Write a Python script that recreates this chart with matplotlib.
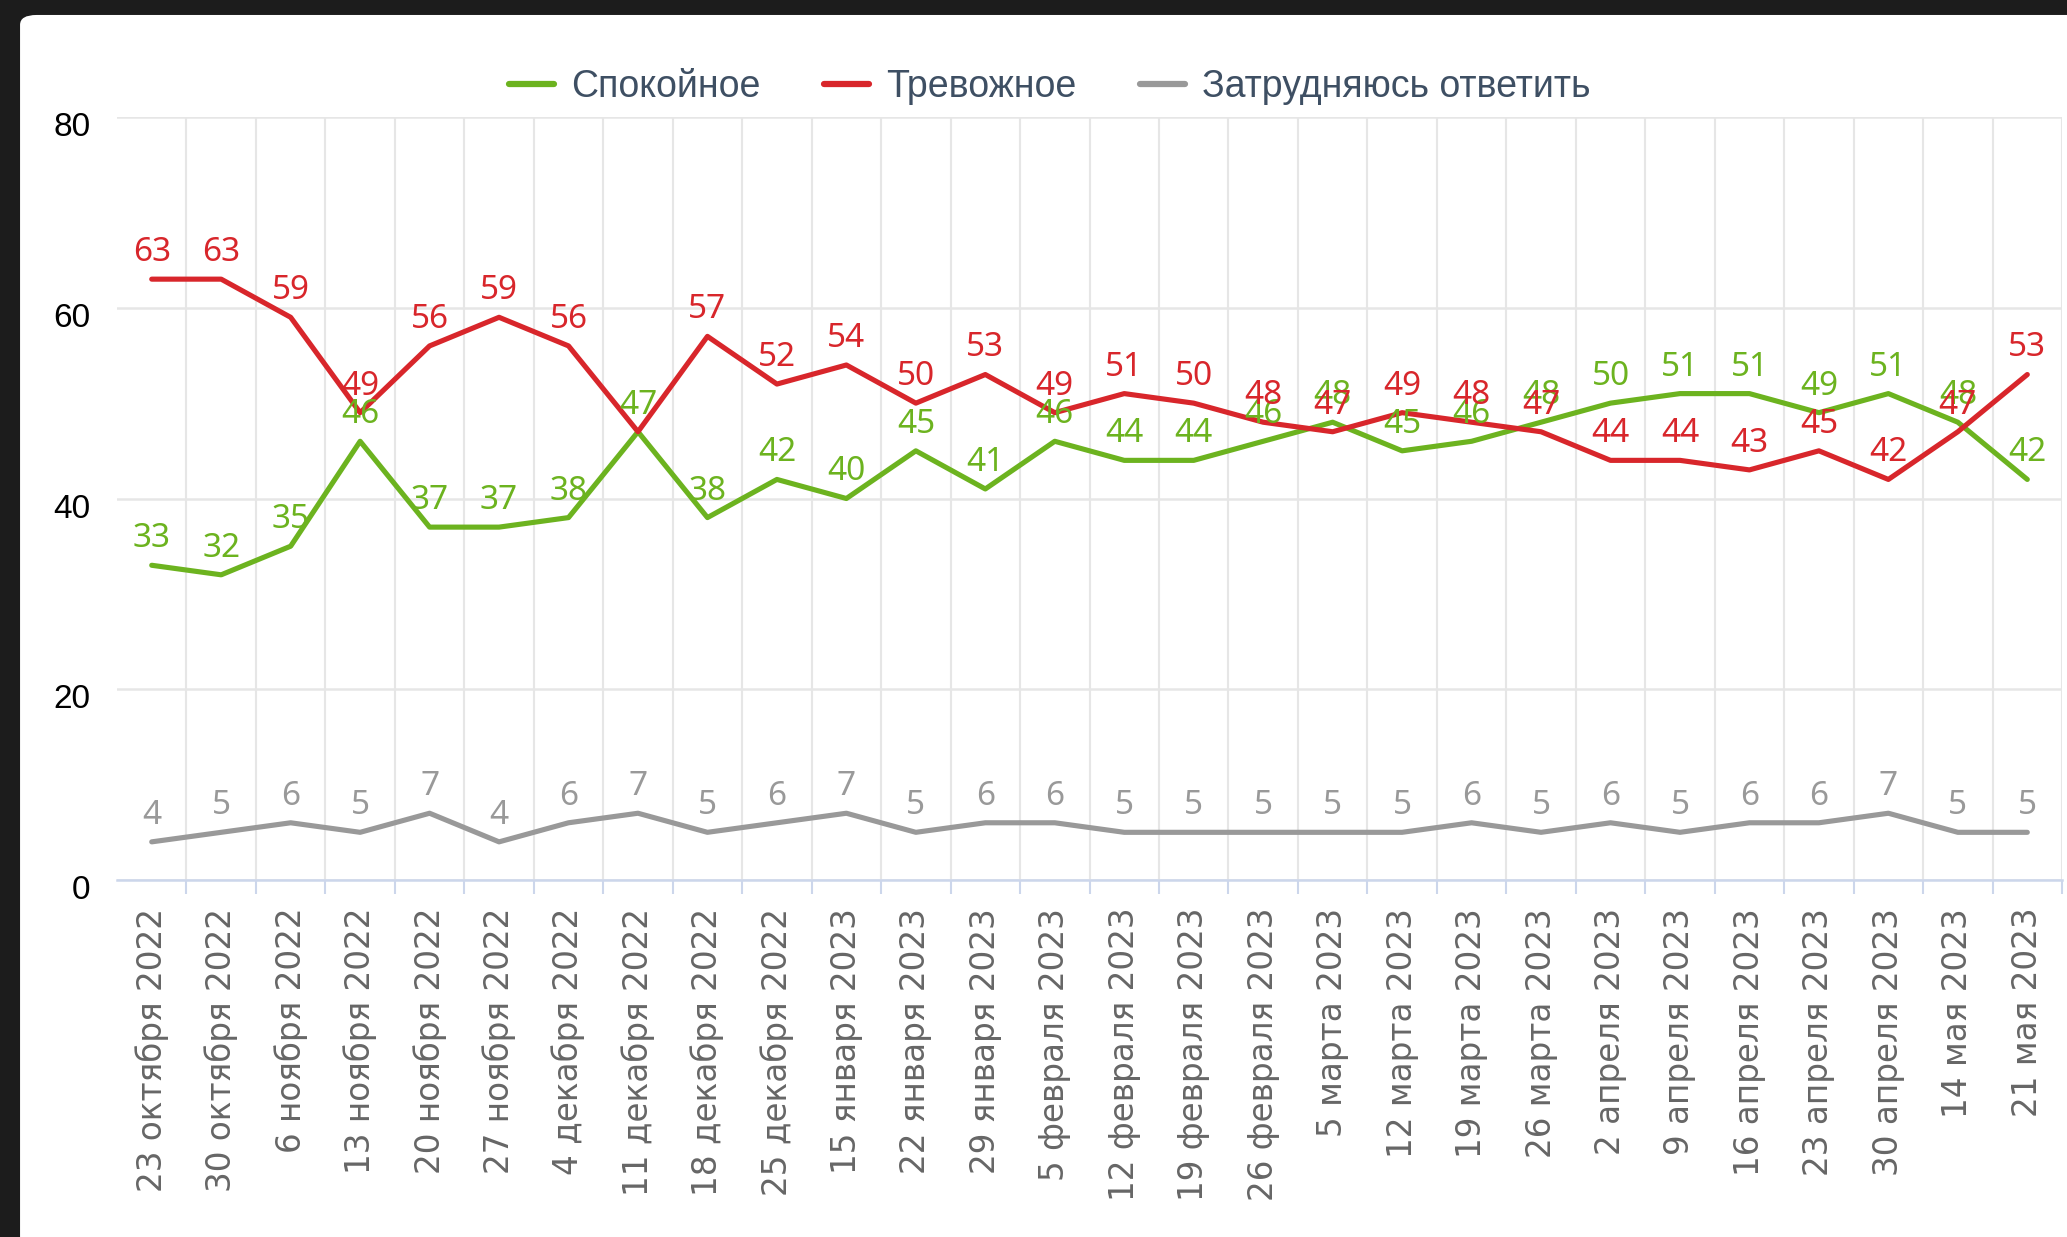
import matplotlib.pyplot as plt
from matplotlib.patches import FancyBboxPatch
from matplotlib.transforms import ScaledTranslation

dates = ['23 октября 2022', '30 октября 2022', '6 ноября 2022', '13 ноября 2022',
         '20 ноября 2022', '27 ноября 2022', '4 декабря 2022', '11 декабря 2022',
         '18 декабря 2022', '25 декабря 2022', '15 января 2023', '22 января 2023',
         '29 января 2023', '5 февраля 2023', '12 февраля 2023', '19 февраля 2023',
         '26 февраля 2023', '5 марта 2023', '12 марта 2023', '19 марта 2023',
         '26 марта 2023', '2 апреля 2023', '9 апреля 2023', '16 апреля 2023',
         '23 апреля 2023', '30 апреля 2023', '14 мая 2023', '21 мая 2023']

calm = [33, 32, 35, 46, 37, 37, 38, 47, 38, 42, 40, 45, 41, 46,
        44, 44, 46, 48, 45, 46, 48, 50, 51, 51, 49, 51, 48, 42]
anxious = [63, 63, 59, 49, 56, 59, 56, 47, 57, 52, 54, 50, 53, 49,
           51, 50, 48, 47, 49, 48, 47, 44, 44, 43, 45, 42, 47, 53]
unsure = [4, 5, 6, 5, 7, 4, 6, 7, 5, 6, 7, 5, 6, 6,
          5, 5, 5, 5, 5, 6, 5, 6, 5, 6, 6, 7, 5, 5]

GREEN = '#6cb31f'
RED = '#d8262b'
GREY = '#999999'

fig = plt.figure(figsize=(20.67, 12.37), dpi=100, facecolor='#1c1c1c')

# white card of the screenshot
panel = FancyBboxPatch((0.0097, -0.05), 1.1, 0.9879 + 0.05,
                       boxstyle='round,pad=0,rounding_size=0.008',
                       transform=fig.transFigure, facecolor='white',
                       edgecolor='none', zorder=-10)
fig.patches.append(panel)

ax = fig.add_axes([0.0566, 0.2886, 0.941, 0.6168])
ax.set_facecolor('white')

x = list(range(len(dates)))
series = [(calm, GREEN, 'Спокойное'),
          (anxious, RED, 'Тревожное'),
          (unsure, GREY, 'Затрудняюсь ответить')]

for vals, col, name in series:
    ax.plot(x, vals, color=col, lw=3.7, label=name,
            solid_joinstyle='round', solid_capstyle='round', zorder=3)

for vals, col, name in series:
    for i, v in enumerate(vals):
        # the overlapping label at the crossing point is hidden in the original
        if vals is anxious and anxious[i] == calm[i]:
            continue
        ax.annotate(str(v), (i, v), xytext=(0, 13), textcoords='offset points',
                    ha='center', va='baseline', color=col, fontsize=24,
                    family='Noto Sans', zorder=4)

ax.set_xlim(-0.5, len(dates) - 0.5)
ax.set_ylim(0, 80)
ax.set_yticks([0, 20, 40, 60, 80])
ax.set_xticks(x)
ax.set_xticklabels(dates, rotation=90, family='DejaVu Sans', fontsize=23.5,
                   color='#666666')
ax.set_xticks([i + 0.5 for i in x], minor=True)

ax.tick_params(axis='x', which='major', length=0, pad=20)
ax.tick_params(axis='x', which='minor', length=10, width=1.5, color='#ccd6eb')
ax.tick_params(axis='y', length=0, pad=19, labelsize=24, labelcolor='black')
for lab in ax.get_yticklabels():
    lab.set_family('Liberation Sans')
    lab.set_transform(lab.get_transform() +
                      ScaledTranslation(0, -0.07, fig.dpi_scale_trans))

ax.grid(which='major', axis='y', color='#e6e6e6', lw=1.8)
ax.grid(which='minor', axis='x', color='#e6e6e6', lw=1.5)
ax.set_axisbelow(True)

for s in ['top', 'left', 'right']:
    ax.spines[s].set_visible(False)
ax.spines['bottom'].set_color('#ccd6eb')
ax.spines['bottom'].set_linewidth(1.8)

leg = ax.legend(loc='center', bbox_to_anchor=(0.508, 0.9297),
                bbox_transform=fig.transFigure, ncol=3, frameon=False,
                handlelength=1.2, handletextpad=0.45,
                columnspacing=1.7, labelcolor='#3e4f63',
                prop={'family': 'Liberation Sans', 'size': 27})
for line in leg.get_lines():
    line.set_linewidth(4.5)

fig.savefig('out.png', dpi=100, facecolor=fig.get_facecolor())
